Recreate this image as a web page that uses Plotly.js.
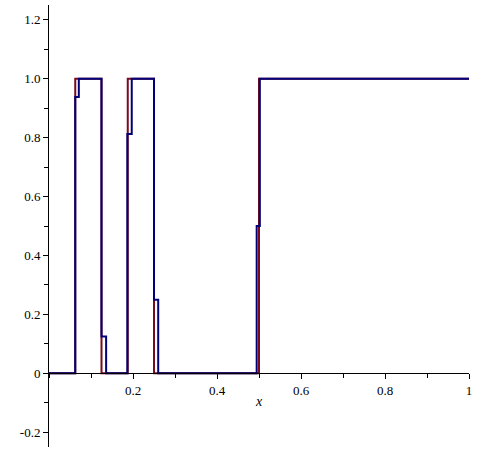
<!DOCTYPE html>
<html>
<head>
<meta charset="utf-8">
<script src="https://cdn.plot.ly/plotly-3.0.1.min.js"></script>
<style>html,body{margin:0;padding:0;background:#fff;}</style>
</head>
<body>
<div id="chart" style="width:478px;height:452px;"></div>
<script>
// Exact step function (red)
const redX = [0, 0.0625, 0.125, 0.1875, 0.25, 0.5, 1];
const redY = [0, 1, 0, 1, 0, 1, 1];
// Approximation (blue)
const blueX = [0, 0.0625, 0.071, 0.125, 0.136, 0.1865, 0.197, 0.25, 0.26, 0.4945, 0.502, 1];
const blueY = [0, 0.9375, 1, 0.125, 0, 0.8125, 1, 0.25, 0, 0.5, 1, 1];

const xTickVals = [0.2, 0.4, 0.6, 0.8, 1];
const xTickText = ["0.2", "0.4", "0.6", "0.8", "1"];
const yTickVals = [-0.2, 0, 0.2, 0.4, 0.6, 0.8, 1.0, 1.2];
const yTickText = ["-0.2", "0", "0.2", "0.4", "0.6", "0.8", "1.0", "1.2"];

const traces = [
  {x: redX, y: redY, mode: 'lines', line: {shape: 'hv', color: '#7a0a1c', width: 2}, hoverinfo: 'skip'},
  {x: blueX, y: blueY, mode: 'lines', line: {shape: 'hv', color: '#000078', width: 2}, hoverinfo: 'skip'}
];

const tickFont = {family: 'Liberation Serif, Times New Roman, serif', size: 13, color: '#000'};

const layout = {
  width: 478, height: 452,
  margin: {l: 49, r: 9, t: 5, b: 5},
  paper_bgcolor: '#fff', plot_bgcolor: '#fff',
  showlegend: false,
  xaxis: {
    range: [0, 1], anchor: 'free', position: 1/6,
    showline: true, linecolor: '#000', linewidth: 1,
    showgrid: false, zeroline: false,
    tickmode: 'array', tickvals: xTickVals, ticktext: xTickText,
    ticks: 'outside', ticklen: 5, tickcolor: '#000', tickwidth: 1,
    minor: {dtick: 0.1, tick0: 0, ticks: 'outside', ticklen: 4, tickcolor: '#000', showgrid: false},
    tickfont: tickFont
  },
  yaxis: {
    range: [-0.25, 1.25], domain: [0, 1],
    showline: true, linecolor: '#000', linewidth: 1,
    showgrid: false, zeroline: false,
    tickmode: 'array', tickvals: yTickVals, ticktext: yTickText,
    ticks: 'outside', ticklen: 5, tickcolor: '#000', tickwidth: 1,
    minor: {dtick: 0.1, tick0: 0, ticks: 'outside', ticklen: 4, tickcolor: '#000', showgrid: false},
    tickfont: tickFont
  },
  annotations: [
    {x: 0.5, y: -0.097, xref: 'x', yref: 'y', text: '<i>x</i>', showarrow: false,
     font: {family: 'Liberation Serif, Times New Roman, serif', size: 14, color: '#000'}}
  ]
};

Plotly.newPlot('chart', traces, layout, {displayModeBar: false, staticPlot: true});
</script>
</body>
</html>
